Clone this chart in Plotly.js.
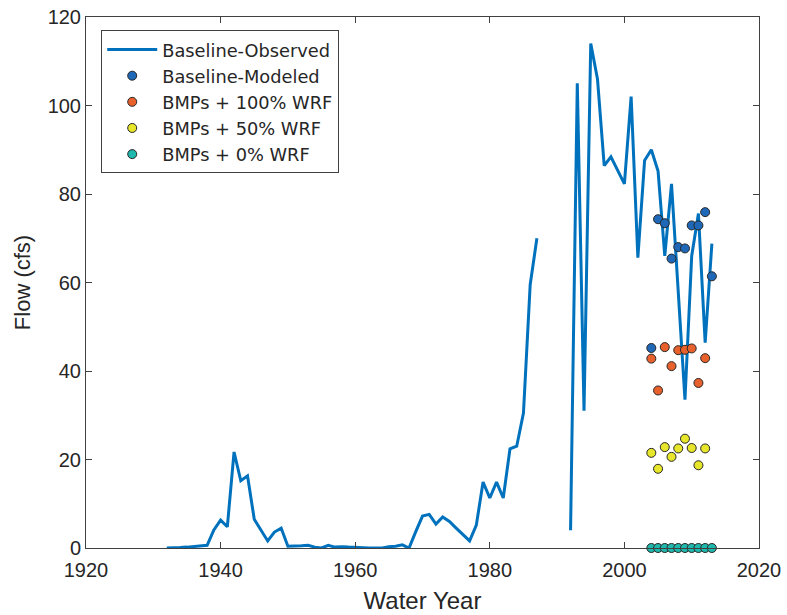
<!DOCTYPE html>
<html>
<head>
<meta charset="utf-8">
<script src="https://cdn.plot.ly/plotly-3.0.1.min.js"></script>
<style>
  html, body { margin: 0; padding: 0; background: #ffffff; }
  #chart { width: 787px; height: 615px; }
</style>
</head>
<body>
<div id="chart"></div>
<script>
// Observed annual flow (cfs), water years 1932-2013; null = no record
const obsYears = [];
for (let y = 1932; y <= 2013; y++) obsYears.push(y);
const obsFlow = [
  0.0, 0.0, 0.1, 0.2, 0.3, 0.5, 0.6, 4.1, 6.3, 4.8,        // 1932-1941
  21.7, 15.2, 16.3, 6.5, 4.0, 1.6, 3.6, 4.5, 0.4, 0.4,     // 1942-1951
  0.5, 0.6, 0.2, 0.0, 0.6, 0.2, 0.3, 0.2, 0.1, 0.0,        // 1952-1961
  0.0, 0.0, 0.0, 0.3, 0.4, 0.7, 0.0, 3.7, 7.2, 7.6,        // 1962-1971
  5.4, 7.0, 6.0, 4.5, 3.0, 1.6, 5.2, 14.9, 11.3, 14.9,     // 1972-1981
  11.3, 22.4, 23.0, 30.5, 59.5, 70.0, null, null, null, null, // 1982-1991
  4.0, 105.0, 31.0, 114.0, 106.0, 86.4, 88.4, 85.3, 82.3, 102.0, // 1992-2001
  65.6, 87.6, 90.0, 85.2, 66.0, 82.3, 58.0, 33.5, 66.0, 75.6,    // 2002-2011
  46.4, 68.8                                                     // 2012-2013
];

// Modeled scenarios
const modelYears = [2004, 2005, 2006, 2007, 2008, 2009, 2010, 2011, 2012, 2013];
const baselineModeled = [45.2, 74.3, 73.4, 65.4, 68.0, 67.7, 72.9, 72.9, 75.9, 61.4];

const wrfYears = [2004, 2005, 2006, 2007, 2008, 2009, 2010, 2011, 2012];
const bmp100 = [42.8, 35.6, 45.4, 41.1, 44.7, 44.8, 45.1, 37.3, 42.9];
const bmp50 = [21.5, 17.9, 22.8, 20.6, 22.5, 24.7, 22.6, 18.7, 22.5];
const bmp0Years = [2004, 2005, 2006, 2007, 2008, 2009, 2010, 2011, 2012, 2013];
const bmp0 = [0, 0, 0, 0, 0, 0, 0, 0, 0, 0];

const seriesNames = [
  'Baseline-Observed',
  'Baseline-Modeled',
  'BMPs + 100% WRF',
  'BMPs + 50% WRF',
  'BMPs + 0% WRF'
];

const FONT = 'Liberation Sans, Arial, sans-serif';
const LEGEND_FONT = 'DejaVu Sans, sans-serif';
const AXIS = '#404040';

function dots(x, y, name, fill) {
  return {
    type: 'scatter', mode: 'markers', x: x, y: y, name: name,
    cliponaxis: false,
    marker: { size: 9, color: fill, line: { color: '#262626', width: 1 } },
    hoverinfo: 'x+y'
  };
}

const traces = [
  {
    type: 'scatter', mode: 'lines', x: obsYears, y: obsFlow,
    name: seriesNames[0], connectgaps: false,
    line: { color: '#0072BD', width: 3 }
  },
  dots(modelYears, baselineModeled, seriesNames[1], '#1f68b8'),
  dots(wrfYears, bmp100, seriesNames[2], '#e8612c'),
  dots(wrfYears, bmp50, seriesNames[3], '#e8e62a'),
  dots(bmp0Years, bmp0, seriesNames[4], '#1fb8ac')
];

const axisCommon = {
  showgrid: false, zeroline: false,
  showline: true, linecolor: AXIS, linewidth: 1, mirror: 'ticks',
  ticks: 'inside', ticklen: 6, tickwidth: 1, tickcolor: AXIS,
  tickfont: { family: FONT, size: 20, color: '#262626' }
};

const layout = {
  width: 787, height: 615,
  margin: { l: 85.5, r: 28, t: 16.5, b: 67.3 },
  paper_bgcolor: '#ffffff', plot_bgcolor: '#ffffff',
  font: { family: FONT, color: '#262626' },
  showlegend: true,
  xaxis: Object.assign({}, axisCommon, {
    range: [1920, 2020], tick0: 1920, dtick: 20, ticklabelstandoff: 4,
    title: { text: 'Water Year', font: { family: FONT, size: 24, color: '#262626' }, standoff: 12 }
  }),
  yaxis: Object.assign({}, axisCommon, {
    range: [0, 120], tick0: 0, dtick: 20,
    title: { text: 'Flow (cfs)', font: { family: FONT, size: 22, color: '#262626' }, standoff: 10 }
  }),
  legend: {
    x: 0.0226, y: 0.9746, xanchor: 'left', yanchor: 'top',
    bgcolor: '#ffffff', bordercolor: AXIS, borderwidth: 1,
    font: { family: LEGEND_FONT, size: 17.8, color: '#262626' },
    itemwidth: 50, tracegroupgap: 0
  }
};

Plotly.newPlot('chart', traces, layout, { displayModeBar: false, staticPlot: true });
</script>
</body>
</html>
